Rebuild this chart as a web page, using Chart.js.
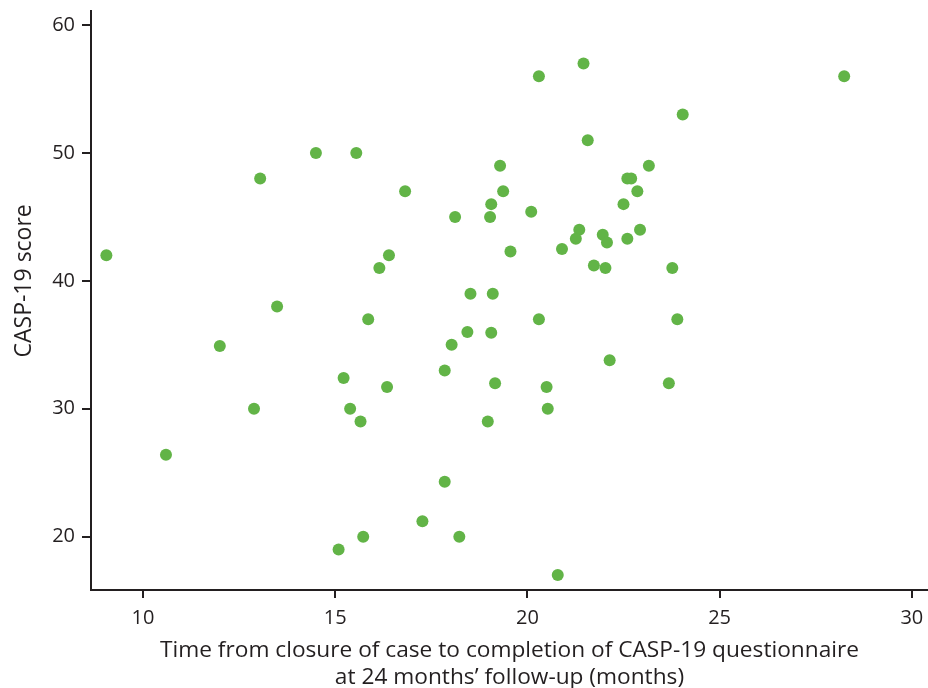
<!DOCTYPE html>
<html>
<head>
<meta charset="utf-8">
<script src="https://cdn.jsdelivr.net/npm/chart.js@4.4.0/dist/chart.umd.min.js"></script>
<style>
  body { margin: 0; background: #fff; }
  #wrap { width: 928px; height: 688px; }
</style>
</head>
<body>
<div id="wrap"><canvas id="scatterChart"></canvas></div>
<script>
// months from case closure to questionnaire completion
const monthsToCompletion = [
  9.05, 10.6, 12.0, 12.89, 13.49, 13.05, 14.5, 15.55, 16.82, 18.12,
  19.29, 19.37, 19.06, 19.03, 20.1, 20.3, 21.46, 21.57, 28.24, 24.04,
  23.16, 22.6, 22.7, 22.86, 22.5, 22.93, 21.35, 21.26, 21.96, 22.07,
  22.6, 20.9, 19.56, 16.4, 16.15, 21.73, 22.03, 23.77, 18.52, 19.1,
  15.86, 20.3, 23.9, 18.44, 19.06, 18.03, 22.14, 17.85, 15.22, 16.35,
  19.16, 20.5, 23.68, 15.39, 20.53, 15.66, 18.97, 17.85, 17.27, 15.73,
  18.23, 15.09, 20.79
];
// CASP-19 score for each respondent
const caspScore = [
  42, 26.4, 34.9, 30, 38, 48, 50, 50, 47, 45,
  49, 47, 46, 45, 45.4, 56, 57, 51, 56, 53,
  49, 48, 48, 47, 46, 44, 44, 43.3, 43.6, 43,
  43.3, 42.5, 42.3, 42, 41, 41.2, 41, 41, 39, 39,
  37, 37, 37, 36, 35.95, 35, 33.8, 33, 32.4, 31.7,
  32, 31.7, 32, 30, 30, 29, 29, 24.3, 21.2, 20,
  20, 19, 17
];

const xTickValues = [10, 15, 20, 25, 30];
const yTickValues = [20, 30, 40, 50, 60];
const xTitleLines = [
  'Time from closure of case to completion of CASP-19 questionnaire',
  'at 24 months\u2019 follow-up (months)'
];
const yTitle = 'CASP-19 score';

const ink = '#231f20';
const dotGreen = '#62b447';
const fontFamily = '"Open Sans", "Noto Sans", sans-serif';

const points = monthsToCompletion.map((m, i) => ({ x: m, y: caspScore[i] }));

// y axis title centred on the tick range rather than the whole axis
const yTitlePlugin = {
  id: 'yTitle',
  afterDraw(chart) {
    const ctx = chart.ctx;
    const yScale = chart.scales.y;
    const mid = (yScale.getPixelForValue(yTickValues[0]) + yScale.getPixelForValue(yTickValues[yTickValues.length - 1])) / 2;
    ctx.save();
    ctx.translate(24, mid);
    ctx.rotate(-Math.PI / 2);
    ctx.font = '23px ' + fontFamily;
    ctx.fillStyle = ink;
    ctx.textAlign = 'center';
    ctx.textBaseline = 'middle';
    ctx.fillText(yTitle, 0, 0);
    ctx.restore();
  }
};

const ctx = document.getElementById('scatterChart').getContext('2d');
const scatterChart = new Chart(ctx, {
  type: 'scatter',
  data: {
    datasets: [{
      data: points,
      backgroundColor: dotGreen,
      borderColor: dotGreen,
      borderWidth: 0,
      pointRadius: 6,
      pointHoverRadius: 6
    }]
  },
  options: {
    responsive: true,
    maintainAspectRatio: false,
    animation: false,
    layout: { autoPadding: false, padding: { top: 11, right: 0, bottom: 0, left: 0 } },
    plugins: {
      legend: { display: false },
      tooltip: { enabled: false }
    },
    scales: {
      x: {
        type: 'linear',
        min: 8.65,
        max: 30.42,
        afterBuildTicks: s => { s.ticks = xTickValues.map(v => ({ value: v })); },
        afterFit: s => { s.height = 98; s.paddingLeft = 0; s.paddingRight = 0; },
        grid: { drawOnChartArea: false, drawTicks: true, tickLength: 8, color: ink, lineWidth: 2 },
        border: { display: true, color: ink, width: 2 },
        ticks: { color: ink, font: { family: fontFamily, size: 20 }, padding: 8, maxRotation: 0 },
        title: {
          display: true,
          text: xTitleLines,
          color: ink,
          font: { family: fontFamily, size: 22.7, lineHeight: 1.2 },
          padding: { top: 0, bottom: -3 }
        }
      },
      y: {
        type: 'linear',
        min: 15.83,
        max: 61.1,
        afterBuildTicks: s => { s.ticks = yTickValues.map(v => ({ value: v })); },
        afterFit: s => { s.width = 91; s.paddingTop = 0; s.paddingBottom = 0; },
        grid: { drawOnChartArea: false, drawTicks: true, tickLength: 9, color: ink, lineWidth: 2 },
        border: { display: true, color: ink, width: 2 },
        ticks: { color: ink, font: { family: fontFamily, size: 20 }, padding: 7 }
      }
    }
  },
  plugins: [yTitlePlugin]
});
</script>
</body>
</html>
